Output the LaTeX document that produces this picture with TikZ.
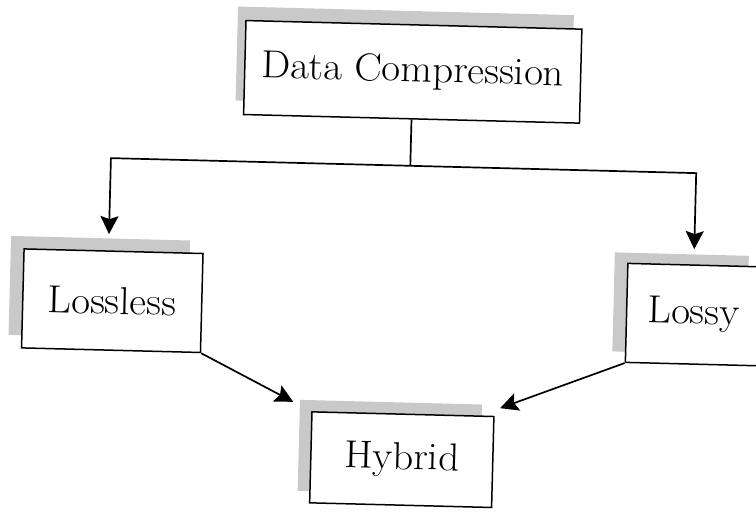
\documentclass[tikz,border=0pt]{standalone}
\usetikzlibrary{arrows.meta,shadows}
\newcommand{\bigtxt}[1]{\scalebox{1.05}[1]{\fontsize{39}{44}\selectfont #1}}
\begin{document}
\begin{tikzpicture}[x=1pt,y=-1pt,
  box/.style={draw=black, line width=1.5pt, fill=white, inner sep=0pt},
  sh/.style 2 args={general shadow={shadow xshift=#1, shadow yshift=#2, fill=gray!42}},
  conn/.style={line width=1.7pt},
  arr/.style={line width=1.7pt, -{Stealth[length=18pt,width=18pt,inset=3pt]}}]
\useasboundingbox (0,0) rectangle (756,512);
\begin{scope}[rotate around={-1.47:(378,256)}, transform shape]
  \node[box, sh={-8pt}{14pt}, minimum width=336pt, minimum height=94pt] (DC) at (408,71)
    {\bigtxt{Data Compression}};
  \node[box, sh={-13pt}{13pt}, minimum width=179pt, minimum height=99pt] (LL) at (113.5,307.5)
    {\bigtxt{Lossless}};
  \node[box, sh={-13pt}{11pt}, minimum width=134pt, minimum height=99pt] (LY) at (695,306.5)
    {\bigtxt{Lossy}};
  \node[box, sh={-12pt}{12pt}, minimum width=182pt, minimum height=91pt] (HY) at (407,459)
    {\bigtxt{Hybrid}};
  \coordinate (bar) at (408,165);
  \coordinate (tL) at (108.5,241);
  \coordinate (tR) at (694,241);
  \coordinate (hL) at (297,404);
  \coordinate (hR) at (504,405);
  \draw[conn] (DC.south) -- (bar);
  \draw[arr] (bar) -| (tL);
  \draw[arr] (bar) -| (tR);
  \draw[arr] (LL.south east) -- (hL);
  \draw[arr] (LY.south west) -- (hR);
\end{scope}
\end{tikzpicture}
\end{document}
